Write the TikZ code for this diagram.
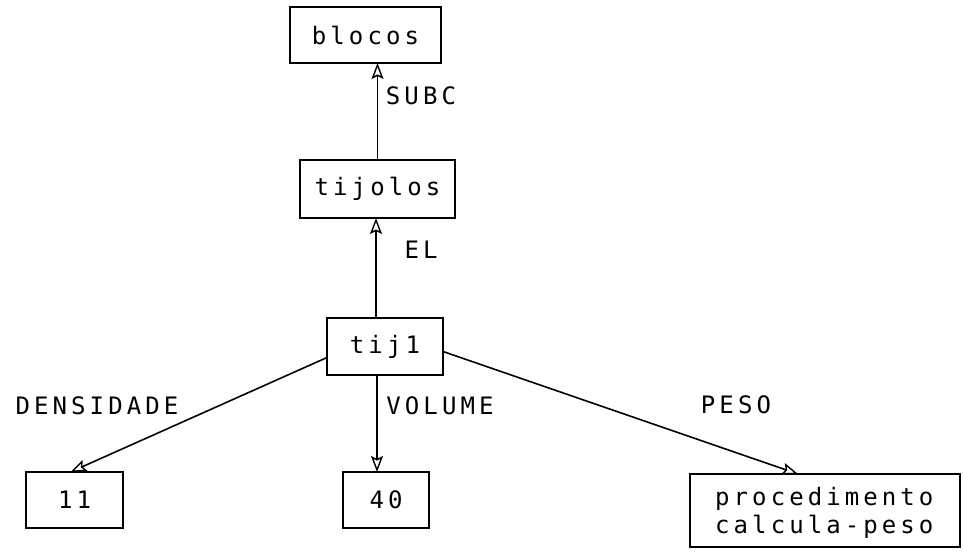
\documentclass[tikz,border=0pt]{standalone}
\usepackage{fontspec}
\setmonofont{DejaVu Sans Mono}[LetterSpace=17]
\usetikzlibrary{arrows.meta}
\begin{document}
\begin{tikzpicture}[x=1pt,y=-1pt,
  frame/.style={draw, line width=1.5pt, rectangle, inner sep=0pt, outer sep=0pt,
    font=\ttfamily\fontsize{24}{28}\selectfont},
  link/.style={line width=1.6pt, -{Stealth[open,inset=3pt,length=16pt,width=12pt,line width=1.4pt]}},
  tag/.style={font=\ttfamily\fontsize{24}{28}\selectfont, inner sep=0pt}]
\useasboundingbox (0,0) rectangle (963,558);

% frames
\node[frame, minimum width=151pt, minimum height=56pt] (blocos) at (365.5,35) {blocos};
\node[frame, minimum width=155pt, minimum height=58pt] (tijolos) at (377.5,189) {tijolos};
\node[frame, minimum width=116pt, minimum height=57pt] (tij) at (385,346.5) {tij1};
\node[frame, minimum width=97pt, minimum height=56pt] (onze) at (74.5,500) {11};
\node[frame, minimum width=86pt, minimum height=56pt] (quarenta) at (386,500) {40};
\node[frame, minimum width=270pt, minimum height=73pt] (proc) at (825,510.5) {};
\node[tag, anchor=west, align=left] (proctxt) at (715,513)
  {procedimento\\calcula-peso};

% connector end points on the frames
\coordinate (e1) at ([xshift=-9pt]tij.north);
\coordinate (e2) at ([xshift=-8pt]tij.south);
\coordinate (e3) at ([yshift=-11pt]tij.west);
\coordinate (e4) at ([yshift=-5pt]tij.east);
\coordinate (t3) at ([xshift=-4pt]onze.north);
\coordinate (t4) at ([xshift=-27pt]proc.north);

% connectors
\draw[link] (tijolos.north) -- (tijolos.north |- blocos.south);
\draw[link] (e1) -- (e1 |- tijolos.south);
\draw[link] (e2) -- (e2 |- quarenta.north);
\draw[link] (e3) -- (t3);
\draw[link] (e4) -- (t4);

% labels
\node[tag] (lsubc) at (421,96) {SUBC};
\node[tag] (lel) at (421,250) {EL};
\node[tag] (lvol) at (440,406) {VOLUME};
\node[tag] (lden) at (97,406) {DENSIDADE};
\node[tag] (lpeso) at (736,405) {PESO};
\end{tikzpicture}
\end{document}
